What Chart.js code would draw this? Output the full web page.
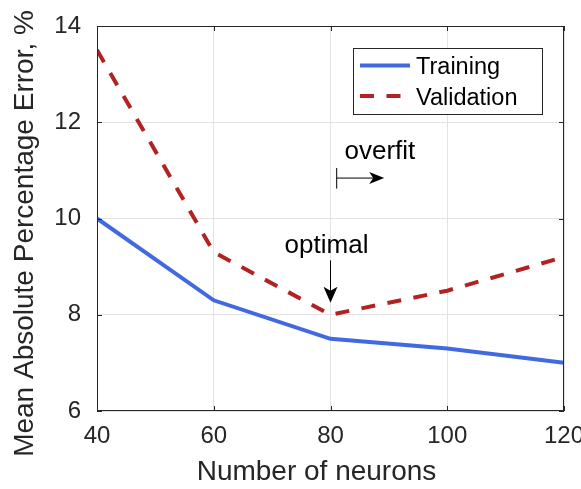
<!DOCTYPE html>
<html>
<head>
<meta charset="utf-8">
<script src="https://cdn.jsdelivr.net/npm/chart.js@4/dist/chart.umd.min.js"></script>
<style>
  html, body { margin: 0; padding: 0; background: #ffffff; }
  #wrap { width: 581px; height: 489px; }
</style>
</head>
<body>
<div id="wrap"><canvas id="c" width="581" height="489"></canvas></div>
<script>
// ---- data ----
const neurons = [40, 60, 80, 100, 120];
const trainingMAPE = [10.0, 8.3, 7.5, 7.3, 7.0];
const validationMAPE = [13.5, 9.3, 8.0, 8.5, 9.2];
const xTicks = [40, 60, 80, 100, 120];
const yTicks = [6, 8, 10, 12, 14];
const seriesNames = ["Training", "Validation"];
const xTitle = "Number of neurons";
const yTitle = "Mean Absolute Percentage Error, %";
const optimalLabel = "optimal";
const overfitLabel = "overfit";

const FONT = "'Liberation Sans', Arial, Helvetica, sans-serif";
const INK = "#262626";
const BLUE = "#4169E1";
const RED = "#B22222";

const boxPlugin = {
  id: 'boxAndExtras',
  afterDatasetsDraw(chart) {
    const ctx = chart.ctx;
    const a = chart.chartArea;
    const xs = chart.scales.x, ys = chart.scales.y;
    ctx.save();
    // axes box
    ctx.strokeStyle = INK;
    ctx.lineWidth = 1;
    ctx.strokeRect(Math.round(a.left) + 0.5, Math.round(a.top) + 0.5,
                   Math.round(a.right - a.left) - 1, Math.round(a.bottom - a.top) - 1);
    // inward ticks
    const tl = 5;
    ctx.beginPath();
    xTicks.forEach(v => {
      const px = Math.round(xs.getPixelForValue(v)) + 0.5;
      ctx.moveTo(px, a.bottom); ctx.lineTo(px, a.bottom - tl);
      ctx.moveTo(px, a.top); ctx.lineTo(px, a.top + tl);
    });
    yTicks.forEach(v => {
      const py = Math.round(ys.getPixelForValue(v)) + 0.5;
      ctx.moveTo(a.left, py); ctx.lineTo(a.left + tl, py);
      ctx.moveTo(a.right, py); ctx.lineTo(a.right - tl, py);
    });
    ctx.stroke();

    // axis titles
    ctx.fillStyle = INK;
    ctx.font = "28px " + FONT;
    ctx.textAlign = "center";
    ctx.textBaseline = "alphabetic";
    ctx.fillText(xTitle, a.left + (a.right - a.left) / 2 - 14, 480);
    ctx.save();
    ctx.translate(33, a.top + (a.bottom - a.top) / 2 + 15);
    ctx.rotate(-Math.PI / 2);
    ctx.fillText(yTitle, 0, 0);
    ctx.restore();

    // annotations
    ctx.fillStyle = "#000";
    ctx.strokeStyle = "#000";
    ctx.lineWidth = 1;
    ctx.font = "26px " + FONT;
    ctx.textBaseline = "alphabetic";
    ctx.textAlign = "center";
    // optimal
    const ox = xs.getPixelForValue(80);
    ctx.fillText(optimalLabel, ox - 4, ys.getPixelForValue(9.285));
    const oy0 = ys.getPixelForValue(9.13), oy1 = ys.getPixelForValue(8.25);
    ctx.beginPath(); ctx.moveTo(ox, oy0); ctx.lineTo(ox, oy1 - 12); ctx.stroke();
    ctx.beginPath();
    ctx.moveTo(ox, oy1); ctx.lineTo(ox - 7, oy1 - 16); ctx.lineTo(ox, oy1 - 12); ctx.lineTo(ox + 7, oy1 - 16);
    ctx.closePath(); ctx.fill();
    // overfit
    ctx.textAlign = "left";
    ctx.fillText(overfitLabel, xs.getPixelForValue(82.4), ys.getPixelForValue(11.23));
    const fx0 = xs.getPixelForValue(81.06), fx1 = xs.getPixelForValue(89.2);
    const fy = ys.getPixelForValue(10.84);
    ctx.beginPath();
    ctx.moveTo(fx0, ys.getPixelForValue(11.05)); ctx.lineTo(fx0, ys.getPixelForValue(10.62));
    ctx.moveTo(fx0, fy); ctx.lineTo(fx1 - 10, fy);
    ctx.stroke();
    ctx.beginPath();
    ctx.moveTo(fx1, fy); ctx.lineTo(fx1 - 15, fy - 6); ctx.lineTo(fx1 - 11, fy); ctx.lineTo(fx1 - 15, fy + 6);
    ctx.closePath(); ctx.fill();

    // legend
    const lx = 353, ly = 48, lw = 189, lh = 66;
    ctx.fillStyle = "#fff";
    ctx.fillRect(lx, ly, lw, lh);
    ctx.strokeStyle = INK;
    ctx.lineWidth = 1;
    ctx.strokeRect(lx + 0.5, ly + 0.5, lw, lh);
    ctx.lineWidth = 4;
    ctx.strokeStyle = BLUE;
    ctx.setLineDash([]);
    ctx.beginPath(); ctx.moveTo(360, 65.5); ctx.lineTo(410, 65.5); ctx.stroke();
    ctx.strokeStyle = RED;
    ctx.setLineDash([14, 12.5]);
    ctx.beginPath(); ctx.moveTo(360, 96); ctx.lineTo(410, 96); ctx.stroke();
    ctx.setLineDash([]);
    ctx.fillStyle = "#000";
    ctx.font = "23.5px " + FONT;
    ctx.textAlign = "left";
    ctx.textBaseline = "alphabetic";
    ctx.fillText(seriesNames[0], 416, 74);
    ctx.fillText(seriesNames[1], 416, 104.5);
    ctx.restore();
  }
};

new Chart(document.getElementById('c'), {
  type: 'line',
  data: {
    datasets: [
      {
        label: seriesNames[0],
        data: neurons.map((n, i) => ({ x: n, y: trainingMAPE[i] })),
        borderColor: BLUE,
        backgroundColor: BLUE,
        borderWidth: 4,
        pointRadius: 0,
        tension: 0,
        fill: false
      },
      {
        label: seriesNames[1],
        data: neurons.map((n, i) => ({ x: n, y: validationMAPE[i] })),
        borderColor: RED,
        backgroundColor: RED,
        borderWidth: 4,
        borderDash: [14, 12.5],
        pointRadius: 0,
        tension: 0,
        fill: false
      }
    ]
  },
  options: {
    responsive: false,
    animation: false,
    devicePixelRatio: 1,
    layout: { padding: { left: 0, top: 26, right: 17, bottom: 0 } },
    plugins: { legend: { display: false }, tooltip: { enabled: false }, title: { display: false } },
    scales: {
      x: {
        type: 'linear',
        min: 40, max: 120,
        afterBuildTicks: s => { s.ticks = xTicks.map(v => ({ value: v })); },
        afterFit: s => { s.height = 78; s.paddingLeft = 0; s.paddingRight = 0; },
        grid: { color: '#e3e3e3', lineWidth: 1, drawTicks: false },
        border: { display: false },
        ticks: { color: INK, font: { family: FONT, size: 24 }, padding: 11, maxRotation: 0 },
        title: { display: false, text: xTitle }
      },
      y: {
        type: 'linear',
        min: 6, max: 14,
        afterBuildTicks: s => { s.ticks = yTicks.map(v => ({ value: v })); },
        afterFit: s => { s.width = 97; s.paddingTop = 0; s.paddingBottom = 0; },
        grid: { color: '#e3e3e3', lineWidth: 1, drawTicks: false },
        border: { display: false },
        ticks: { color: INK, font: { family: FONT, size: 24 }, padding: 16 },
        title: { display: false, text: yTitle }
      }
    }
  },
  plugins: [boxPlugin]
});
</script>
</body>
</html>
